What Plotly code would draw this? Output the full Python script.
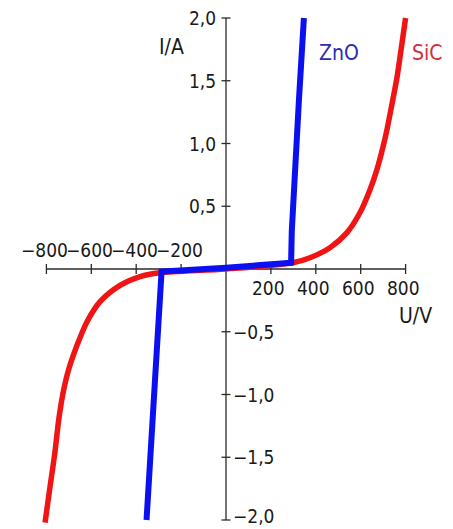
import plotly.graph_objects as go

# ---- data ----
sic_u = [-806, -785, -762, -745, -726, -704, -664, -619, -561, -472, -383, -294, 0, 298, 374, 463, 539, 597, 641, 672, 699, 717, 740, 762, 784, 800]
sic_i = [-2.02, -1.75, -1.46, -1.2, -0.99, -0.82, -0.61, -0.42, -0.26, -0.13, -0.06, -0.03, 0.0, 0.05, 0.09, 0.17, 0.29, 0.45, 0.63, 0.79, 0.97, 1.11, 1.32, 1.53, 1.80, 2.0]

zno_u = [-354, -338, -320, -305, -290, -287, 0, 290, 293, 300, 307, 316, 325, 347]
zno_i = [-2.0, -1.5, -1.0, -0.5, -0.2, -0.02, 0.01, 0.05, 0.3, 0.57, 0.71, 1.05, 1.35, 2.0]

x_ticks = [-800, -600, -400, -200, 200, 400, 600, 800]
x_tick_labels = ["−800", "−600", "−400", "−200", "200", "400", "600", "800"]
y_ticks = [2.0, 1.5, 1.0, 0.5, -0.5, -1.0, -1.5, -2.0]
y_tick_labels = ["2,0", "1,5", "1,0", "0,5", "−0,5", "−1,0", "−1,5", "−2,0"]

# ---- layout constants ----
PAGE_OFF = 8  # default body margin of the html page
W, H = 453 - PAGE_OFF, 529 - PAGE_OFF
px_per_u = 0.2245
px_per_i = 125.5
x0_px, y0_px = 226 - PAGE_OFF, 269 - PAGE_OFF
xr = [-x0_px / px_per_u, (W - x0_px) / px_per_u]
yr = [(y0_px - H) / px_per_i, y0_px / px_per_i]

FONT = "Liberation Sans Narrow, DejaVu Sans Condensed, Liberation Sans, Arial, sans-serif"
AX = "#2a2a2a"

fig = go.Figure()
fig.add_trace(go.Scatter(x=sic_u, y=sic_i, mode="lines", line=dict(color="#f01414", width=5.5, shape="spline", smoothing=0.8), hoverinfo="skip"))
fig.add_trace(go.Scatter(x=zno_u, y=zno_i, mode="lines", line=dict(color="#0a10f0", width=6), hoverinfo="skip"))

shapes = []
shapes.append(dict(type="line", xref="x", yref="y", x0=x_ticks[0], x1=x_ticks[-1], y0=0, y1=0, line=dict(color=AX, width=1.3), layer="below"))
shapes.append(dict(type="line", xref="x", yref="y", x0=0, x1=0, y0=min(y_ticks), y1=max(y_ticks), line=dict(color=AX, width=1.3), layer="below"))
tx = 5 / px_per_i
ty = 4.5 / px_per_u
for v in x_ticks:
    shapes.append(dict(type="line", xref="x", yref="y", x0=v, x1=v, y0=-tx, y1=tx, line=dict(color=AX, width=1.3), layer="below"))
for v in y_ticks:
    shapes.append(dict(type="line", xref="x", yref="y", x0=-ty, x1=ty, y0=v, y1=v, line=dict(color=AX, width=1.3), layer="below"))

ann = []
tf = dict(family=FONT, size=19, color="#1a1a1a")
for v, t in zip(x_ticks, x_tick_labels):
    if v < 0:
        ann.append(dict(x=v, y=0, text=t, showarrow=False, xanchor="center", yanchor="middle", yshift=19, xshift=-2, font=tf))
    else:
        ann.append(dict(x=v, y=0, text=t, showarrow=False, xanchor="center", yanchor="middle", yshift=-19, xshift=-2, font=tf))
for v, t in zip(y_ticks, y_tick_labels):
    if v > 0:
        ann.append(dict(x=0, y=v, text=t, showarrow=False, xanchor="right", yanchor="middle", xshift=-8, font=tf))
    else:
        ann.append(dict(x=0, y=v, text=t, showarrow=False, xanchor="left", yanchor="bottom" if v == min(y_ticks) else "middle",
                        yshift=-9 if v == min(y_ticks) else 0, xshift=5, font=tf))

lf = dict(family=FONT, size=21, color="#1a1a1a")
ann.append(dict(x=-245, y=1.77, text="I/A", showarrow=False, xanchor="center", yanchor="middle", font=lf))
ann.append(dict(x=842, y=-0.375, text="U/V", showarrow=False, xanchor="center", yanchor="middle", font=lf))
ann.append(dict(x=503, y=1.72, text="ZnO", showarrow=False, xanchor="center", yanchor="middle", font=dict(family=FONT, size=21, color="#2c2cb4")))
ann.append(dict(x=895, y=1.72, text="SiC", showarrow=False, xanchor="center", yanchor="middle", font=dict(family=FONT, size=21, color="#d42c3c")))

fig.update_layout(
    width=W, height=H,
    margin=dict(l=0, r=0, t=0, b=0),
    paper_bgcolor="white", plot_bgcolor="white",
    showlegend=False,
    xaxis=dict(range=xr, visible=False, fixedrange=True),
    yaxis=dict(range=yr, visible=False, fixedrange=True),
    shapes=shapes,
    annotations=ann,
)
fig.write_html("out.html")
